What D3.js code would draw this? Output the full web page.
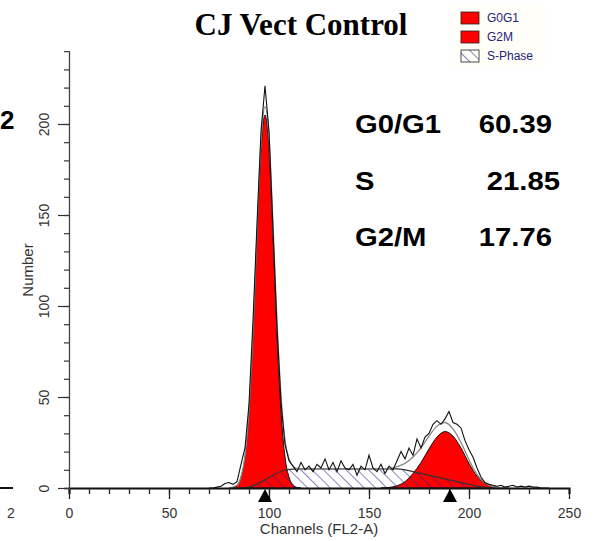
<!DOCTYPE html>
<html>
<head>
<meta charset="utf-8">
<script src="https://cdn.jsdelivr.net/npm/d3@7"></script>
<style>
  body { margin: 0; background: #fff; }
  svg { display: block; }
</style>
</head>
<body>
<svg id="chart" width="596" height="541"></svg>
<script>
// values, [channel, count]
const rawData = [
  [70,0],[72,0],[74,0.5],[76,1],[78,2.5],[80,3],[82,2],[84,3.5],[86,13],[88,22],
  [90,46],[92,92],[94,145],[96,196],[98,221],[100,196],[102,142],[104,88],[106,47],[108,24],
  [110,15],[112,12],[114,9],[116,14],[118,10],[120,12],[122,9],[124,13],[126,11],[128,16],
  [130,10],[132,14],[134,9],[136,15],[138,11],[140,10],[142,13],[144,7],[146,12],[148,10],
  [150,18],[152,11],[154,9],[156,13],[158,8],[160,12],[162,10],[164,15],[166,20],[168,16],
  [170,22],[172,18],[174,27],[176,22],[178,28],[180,30],[182,35],[184,37],[186,35],[188,38],
  [190,42],[192,36],[194,35],[196,33],[198,26],[200,21],[202,17],[204,11],[206,6],[208,3],
  [210,2],[212,1.5],[214,1],[216,1.5],[218,0.5],[220,1],[222,1.5],[224,0.5],[226,1],[228,0.5],
  [230,1],[232,0.5],[234,0.5],[236,0],[238,0],[240,0]
]

const g0g1Fit = [
  [80,0],[82,0.3],[84,1.5],[86,6],[88,17],[90,42],[92,84],[94,138],[96,186],[98,205],
  [100,186],[102,138],[104,84],[106,42],[108,17],[110,6],[112,1.5],[114,0.3],[116,0]
]

const g2mFit = [
  [156,0],[160,0.3],[164,1.2],[168,3.5],[172,8],[176,14],[180,21.5],[184,28],[188,31],
  [192,28.5],[196,22],[200,13.5],[204,6.5],[208,2.5],[212,0.8],[216,0.2],[220,0]
]

const sPhaseFit = [
  [86,0],[90,0.5],[94,2],[98,4.5],[102,7],[106,9.2],[110,10.2],[114,10.5],[164,10.5],
  [168,10],[172,9],[176,8],[180,7],[184,6],[188,5],[192,4],[196,3],[200,2],[204,1],
  [208,0.3],[212,0]
]

const modelFit = [
  [80,0],[84,1.5],[86,6],[88,17.5],[90,42.5],[92,85],[94,140],[96,190],[98,209.5],[100,193],
  [102,145],[104,92],[106,51],[108,26],[110,16],[112,12],[114,10.8],[120,10.5],[160,10.7],
  [164,11.7],[168,13.5],[172,17],[176,22],[180,28.5],[184,34],[188,36],[192,32.5],[196,25],
  [200,15.5],[204,7.5],[208,2.8],[212,0.8],[216,0.2],[220,0]
]

const peakMarkers = [98, 190.5]

const statLabels = ['G0/G1', 'S', 'G2/M']
const statValues = ['60.39', '21.85', '17.76']

const legendNames = ['G0G1', 'G2M', 'S-Phase']

const xTicks = [0, 50, 100, 150, 200, 250]
const yTicks = [0, 50, 100, 150, 200]

let svg = d3.select('#chart')

let x = d3.scaleLinear().domain([0, 250]).range([69, 569])
let y = d3.scaleLinear().domain([0, 240]).range([488, 51.2])

// hatch for S-phase
let defs = svg.append('defs')
defs.append('pattern')
  .attr('id', 'hatch')
  .attr('patternUnits', 'userSpaceOnUse')
  .attr('width', 8).attr('height', 8)
  .attr('patternTransform', 'rotate(-45)')
  .append('line')
  .attr('x1', 0).attr('y1', 0).attr('x2', 0).attr('y2', 8)
  .attr('stroke', '#23238a').attr('stroke-width', 1.1)

let area = d3.area()
  .x(d => x(d[0])).y0(y(0)).y1(d => y(d[1]))
  .curve(d3.curveMonotoneX)
let line = d3.line()
  .x(d => x(d[0])).y(d => y(d[1]))
  .curve(d3.curveMonotoneX)

// white under S so the hatch shows on white where it is on top
svg.append('path').datum(sPhaseFit).attr('d', area).attr('fill', '#fff')

svg.append('path').datum(g0g1Fit).attr('d', area)
  .attr('fill', '#ff0000').attr('stroke', '#111').attr('stroke-width', 1)
svg.append('path').datum(g2mFit).attr('d', area)
  .attr('fill', '#ff0000').attr('stroke', '#111').attr('stroke-width', 1)

svg.append('path').datum(sPhaseFit).attr('d', area).attr('fill', 'url(#hatch)')
svg.append('path').datum(sPhaseFit).attr('d', line)
  .attr('fill', 'none').attr('stroke', '#333').attr('stroke-width', 1.3)

svg.append('path').datum(modelFit).attr('d', line)
  .attr('fill', 'none').attr('stroke', '#888').attr('stroke-width', 1.3)

svg.append('path').datum(rawData)
  .attr('d', d3.line().x(d => x(d[0])).y(d => y(d[1])))
  .attr('fill', 'none').attr('stroke', '#111').attr('stroke-width', 1.1)

// x axis: minor then major
svg.append('g')
  .attr('transform', 'translate(0,' + y(0) + ')')
  .call(d3.axisBottom(x).tickValues(d3.range(0, 251, 10)).tickSize(6).tickFormat(''))
  .call(g => g.select('.domain').attr('stroke', '#111').attr('stroke-width', 2))
  .call(g => g.selectAll('.tick line').attr('stroke', '#222').attr('stroke-width', 1.3))

svg.append('g')
  .attr('transform', 'translate(0,' + y(0) + ')')
  .call(d3.axisBottom(x).tickValues(xTicks).tickSize(11).tickPadding(4))
  .call(g => g.select('.domain').remove())
  .call(g => g.selectAll('.tick line').attr('stroke', '#222').attr('stroke-width', 1.3))
  .call(g => g.selectAll('.tick text')
    .attr('y', 30).attr('dy', 0)
    .attr('fill', '#333')
    .style('font-family', 'Liberation Sans, Arial, sans-serif')
    .style('font-size', '14px'))

// y axis
svg.append('g')
  .attr('transform', 'translate(' + x(0) + ',0)')
  .call(d3.axisLeft(y).tickValues(d3.range(0, 231, 10)).tickSize(5).tickFormat(''))
  .call(g => g.select('.domain').attr('stroke', '#444').attr('stroke-width', 1.3))
  .call(g => g.selectAll('.tick line').attr('stroke', '#333').attr('stroke-width', 1.2))

svg.append('g')
  .attr('transform', 'translate(' + x(0) + ',0)')
  .call(d3.axisLeft(y).tickValues(yTicks).tickSize(11))
  .call(g => g.select('.domain').remove())
  .call(g => g.selectAll('.tick line').attr('stroke', '#333').attr('stroke-width', 1.2))
  .call(g => g.selectAll('.tick text')
    .attr('transform', 'rotate(-90)')
    .attr('x', 0).attr('y', -20).attr('dy', 0)
    .attr('text-anchor', 'middle')
    .attr('fill', '#333')
    .style('font-family', 'Liberation Sans, Arial, sans-serif')
    .style('font-size', '14px'))

// axis titles
svg.append('text')
  .attr('x', 319).attr('y', 534)
  .attr('text-anchor', 'middle')
  .attr('fill', '#333')
  .style('font-family', 'Liberation Sans, Arial, sans-serif')
  .style('font-size', '15px')
  .text('Channels (FL2-A)')

svg.append('text')
  .attr('transform', 'translate(33,270) rotate(-90)')
  .attr('text-anchor', 'middle')
  .attr('fill', '#333')
  .style('font-family', 'Liberation Sans, Arial, sans-serif')
  .style('font-size', '15px')
  .text('Number')

// peak markers under the axis
svg.selectAll('.marker')
  .data(peakMarkers)
  .join('path')
  .attr('class', 'marker')
  .attr('d', d => 'M' + x(d) + ',489L' + (x(d) - 7) + ',502L' + (x(d) + 7) + ',502Z')
  .attr('fill', '#000')

// title
svg.append('text')
  .attr('x', 301).attr('y', 35)
  .attr('text-anchor', 'middle')
  .style('font-family', 'Liberation Serif, Times New Roman, serif')
  .style('font-weight', 'bold')
  .style('font-size', '31px')
  .text('CJ Vect Control')

// percentages
let statY = [133, 190, 246]
let valueEnd = [552, 560, 552]
statLabels.forEach((s, i) => {
  svg.append('text')
    .attr('transform', 'translate(355,' + statY[i] + ') scale(1.17,1)')
    .style('font-family', 'Liberation Sans, Arial, sans-serif')
    .style('font-weight', 'bold')
    .style('font-size', '25px')
    .text(s)
  svg.append('text')
    .attr('transform', 'translate(' + valueEnd[i] + ',' + statY[i] + ') scale(1.17,1)')
    .attr('text-anchor', 'end')
    .style('font-family', 'Liberation Sans, Arial, sans-serif')
    .style('font-weight', 'bold')
    .style('font-size', '25px')
    .text(statValues[i])
})

// legend
let legend = svg.append('g')
legend.append('rect')
  .attr('x', 452).attr('y', 4).attr('width', 94).attr('height', 64)
  .attr('fill', '#fffef8')
legendNames.forEach((name, i) => {
  let cy = 18 + i * 19
  legend.append('rect')
    .attr('x', 461).attr('y', cy - 6).attr('width', 18).attr('height', 12)
    .attr('fill', i < 2 ? '#ff0000' : 'url(#hatch)')
    .attr('stroke', '#222').attr('stroke-width', 0.8)
  legend.append('text')
    .attr('x', 487).attr('y', cy).attr('dy', '0.36em')
    .attr('fill', '#23237a')
    .style('font-family', 'Liberation Sans, Arial, sans-serif')
    .style('font-size', '12px')
    .text(name)
})

// pieces of the neighbouring panel cut by the crop
svg.append('text')
  .attr('x', 0).attr('y', 129)
  .style('font-family', 'Liberation Sans, Arial, sans-serif')
  .style('font-weight', 'bold')
  .style('font-size', '26px')
  .text('2')
svg.append('line')
  .attr('x1', 0).attr('x2', 13).attr('y1', 488).attr('y2', 488)
  .attr('stroke', '#111').attr('stroke-width', 2)
svg.append('text')
  .attr('x', 7).attr('y', 518)
  .attr('fill', '#333')
  .style('font-family', 'Liberation Sans, Arial, sans-serif')
  .style('font-size', '14px')
  .text('2')
</script>
</body>
</html>
